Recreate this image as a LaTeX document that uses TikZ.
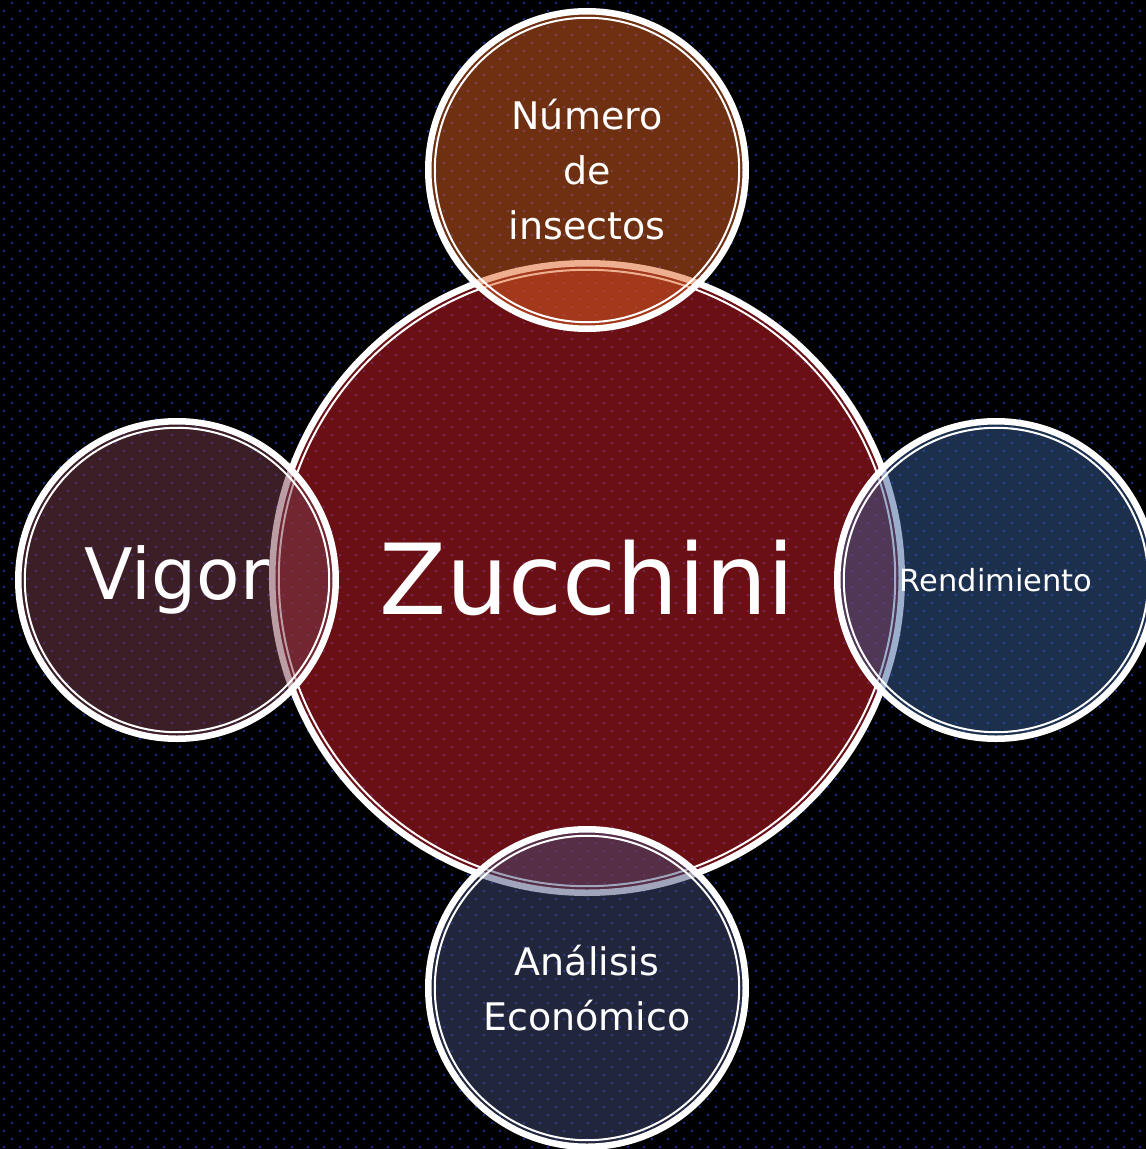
\documentclass[tikz,border=0pt]{standalone}
\usepackage{fontspec}
\setmainfont{DejaVu Sans}
\usepackage{tikz}
\definecolor{dotblue}{RGB}{16,44,140}
\definecolor{zucred}{RGB}{212,32,42}
\definecolor{insorange}{RGB}{220,96,32}
\definecolor{vigplum}{RGB}{120,60,76}
\definecolor{rendblue}{RGB}{56,94,152}
\definecolor{econavy}{RGB}{68,76,120}
\tikzset{
    bubble/.style={circle, inner sep=0mm, draw=white, line width=6.5pt,
        fill opacity=.5, text opacity=1, text=white, align=center},
    bigbubble/.style={bubble, minimum size=629.5pt},
    satbubble/.style={bubble, minimum size=317.5pt},
    innerring/.style={draw=white, line width=2pt}
}

\begin{document}
\begin{tikzpicture}[x=1pt, y=-1pt]
    \fill[black] (0,0) rectangle (1146,1149);
    \useasboundingbox (0,0) rectangle (1146,1149);

    % dotted backdrop, one path per row pair
    \foreach \j in {0,...,71} {
        \fill[dotblue] \foreach \i in {0,...,71} {
            (11+16*\i, 2+16*\j) rectangle ++(2,2)
            (3+16*\i, 10+16*\j) rectangle ++(2,2) };
    }

    \node (zucchini) [bigbubble, fill=zucred, font=\fontsize{98}{110}\selectfont] at (587, 578) {Zucchini};
    \draw[innerring] (zucchini.center) circle[radius=308.2pt];

    \node (insectos) [satbubble, fill=insorange, font=\fontsize{38}{55}\selectfont] at (587, 170) {Número\\de\\insectos};
    \draw[innerring] (insectos.center) circle[radius=152.2pt];

    \node (vigor) [satbubble, fill=vigplum, font=\fontsize{71}{80}\selectfont] at (177, 580) {Vigor};
    \draw[innerring] (vigor.center) circle[radius=152.2pt];

    \node (rendimiento) [satbubble, fill=rendblue, font=\fontsize{30.5}{36}\selectfont] at (996, 580) {Rendimiento};
    \draw[innerring] (rendimiento.center) circle[radius=152.2pt];

    \node (analisis) [satbubble, fill=econavy, font=\fontsize{38}{55}\selectfont] at (587, 988) {Análisis\\Económico};
    \draw[innerring] (analisis.center) circle[radius=152.2pt];
\end{tikzpicture}
\end{document}
